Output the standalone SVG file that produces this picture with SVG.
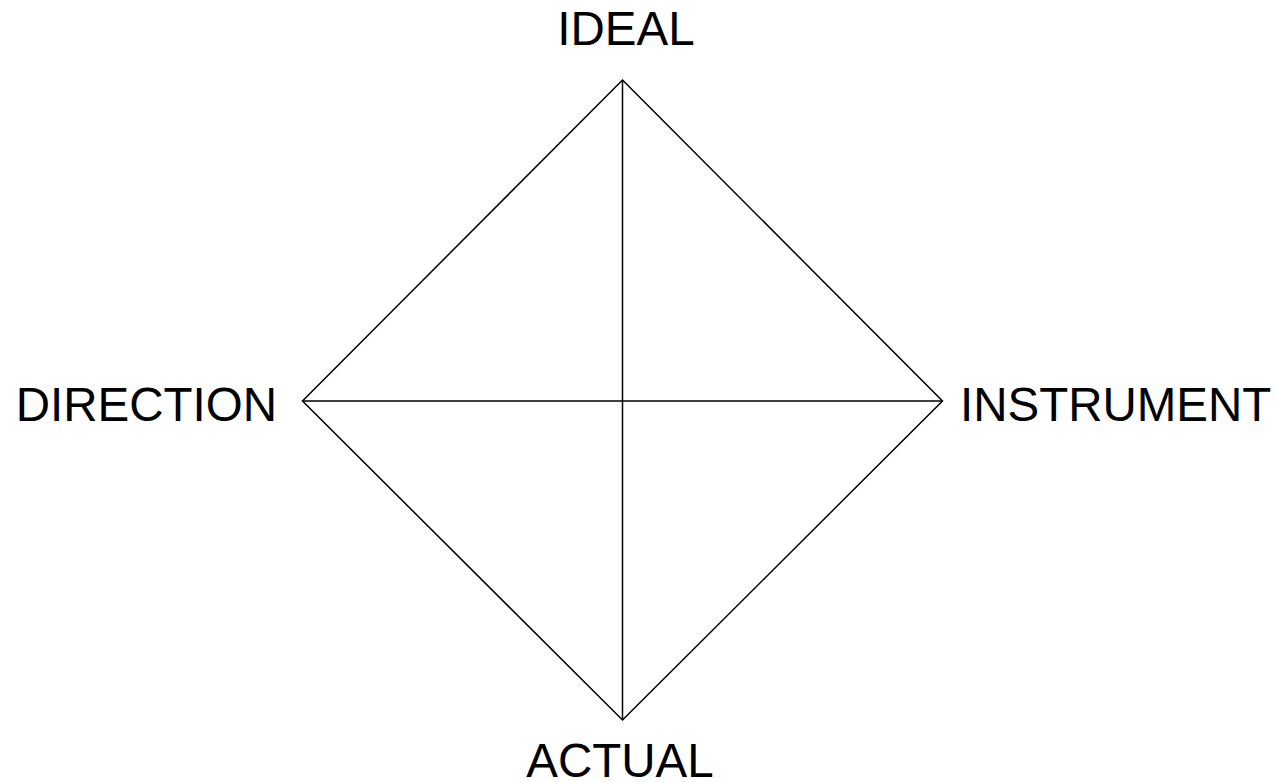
<svg xmlns="http://www.w3.org/2000/svg" width="1278" height="782" viewBox="0 0 1278 782">
<style>
.l{stroke:#000;stroke-width:1.5;fill:none}
.t{font-family:"Liberation Sans",Arial,sans-serif;font-size:47.5px;fill:#000}
</style>
<rect width="1278" height="782" fill="#fff"/>
<g id="connectors">
<polygon class="l" points="622.5,80 942.5,401 622.5,720 302.5,401"/>
<line class="l" x1="622.5" y1="80" x2="622.5" y2="720"/>
<line class="l" x1="302.5" y1="401" x2="942.5" y2="401"/>
</g>
<g id="ideal"><text class="t" x="626" y="45" text-anchor="middle">IDEAL</text></g>
<g id="direction"><text class="t" x="277" y="420.5" text-anchor="end">DIRECTION</text></g>
<g id="instrument"><text class="t" x="960" y="420.5">INSTRUMENT</text></g>
<g id="actual"><text class="t" x="620" y="777" text-anchor="middle">ACTUAL</text></g>
</svg>
